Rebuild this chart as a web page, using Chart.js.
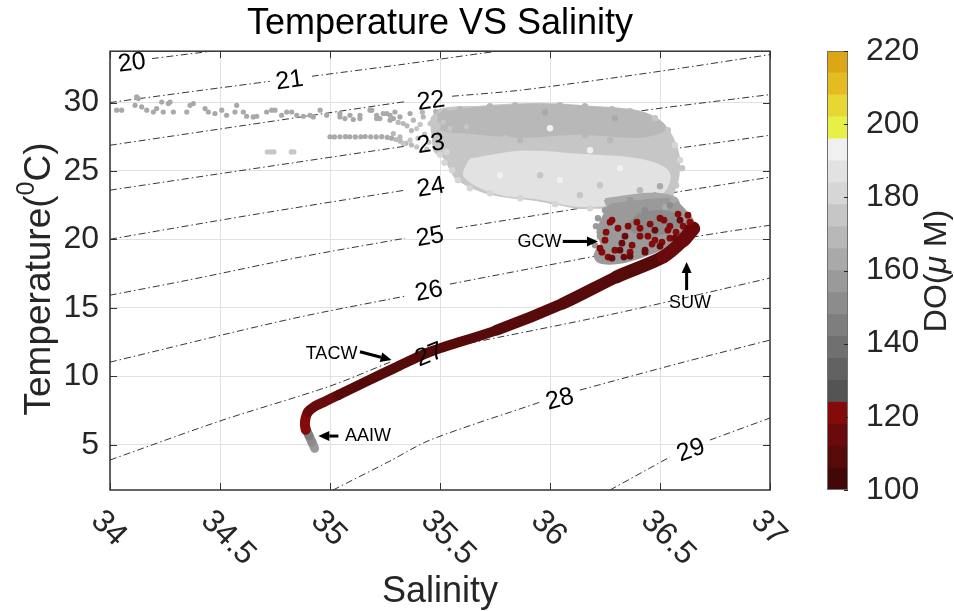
<!DOCTYPE html>
<html lang="en">
<head>
<meta charset="UTF-8">
<title>Temperature VS Salinity</title>
<script src="https://cdn.jsdelivr.net/npm/chart.js@4"></script>
<style>
  html, body { margin: 0; padding: 0; background: #fff; }
  #wrap { position: relative; width: 954px; height: 611px; }
  #tsChart { position: absolute; left: 0; top: 0; }
  #cbChart { position: absolute; left: 800px; top: 0; }
</style>
</head>
<body>
<div id="wrap">
  <canvas id="tsChart" width="954" height="611"></canvas>
  <canvas id="cbChart" width="154" height="611"></canvas>
</div>
<script>
const FONT = "'Liberation Sans', Arial, Helvetica, sans-serif";

// axis ticks
const salTicks = [34, 34.5, 35, 35.5, 36, 36.5, 37];
const tempTicks = [5, 10, 15, 20, 25, 30];
const doTicks = [100, 120, 140, 160, 180, 200, 220];

// colour bar: 20 bands of 6 uM
const doEdges = [100, 106, 112, 118, 124, 130, 136, 142, 148, 154, 160, 166, 172, 178, 184, 190, 196, 202, 208, 214, 220];
const doColors = ['#420808', '#570a0a', '#6a0a0c', '#850a0a', '#545454', '#626262', '#707070', '#7e7e7e',
  '#8c8c8c', '#9a9a9a', '#a9a9a9', '#b8b8b8', '#c6c6c6', '#d6d6d6', '#e2e2e2', '#f0f0f0',
  '#e6f046', '#e8d632', '#e4bc22', '#dca616'];

// sigma-theta isopycnals [salinity, temperature]; null = gap left for the label
const sig20 = [[34.191, 33.21], [34.5, 33.83]];
const sig21 = [[34.0, 30.0], [34.409, 30.88], [34.727, 31.55], null, [34.918, 31.92], [35.318, 32.76], [35.682, 33.58], [35.759, 33.74]];
const sig22 = [[34.0, 26.88], [34.614, 28.34], [35.227, 29.80], [35.341, 30.06], null, [35.555, 30.46], [35.864, 30.90], [36.455, 32.18], [37.0, 33.50]];
const sig23 = [[34.0, 23.60], [34.636, 25.13], [35.341, 26.81], null, [35.568, 27.39], [36.045, 28.56], [36.5, 29.58], [37.0, 30.58]];
const sig24 = [[34.0, 20.02], [34.636, 21.77], [35.341, 23.60], null, [35.568, 24.33], [36.045, 25.57], [36.577, 26.66], [37.0, 27.61]];
const sig25 = [[34.0, 15.93], [34.355, 17.03], [34.864, 18.71], [35.341, 20.09], null, [35.573, 20.82], [36.136, 22.28], [36.545, 23.38], [37.0, 24.55]];
const sig26 = [[34.0, 11.04], [34.818, 14.18], [35.341, 15.86], null, [35.545, 16.74], [36.227, 18.85], [36.65, 20.17], [37.0, 21.04]];
const sig27 = [[34.0, 3.89], [34.5, 6.74], [35.0, 9.29], [35.273, 11.04], null, [35.568, 12.21], [36.305, 14.62], [37.0, 17.18]];
const sig28 = [[35.014, 1.70], [35.273, 3.82], [35.455, 5.35], [35.955, 8.12], null, [36.136, 9.00], [36.591, 10.97], [37.0, 12.65]];
const sig29 = [[36.273, 1.70], [36.545, 4.11], null, [36.727, 5.35], [37.0, 6.96]];
const sigLevels = [20, 21, 22, 23, 24, 25, 26, 27, 28, 29];
const sigLines = [sig20, sig21, sig22, sig23, sig24, sig25, sig26, sig27, sig28, sig29];
const sigLabelAt = [[34.10, 32.87], [34.816, 31.59], [35.459, 30.09], [35.459, 26.95], [35.459, 23.78],
  [35.455, 20.17], [35.45, 16.19], [35.452, 11.55], [36.045, 8.31], [36.641, 4.58]];

// main T-S curve (thermocline / intermediate water)
const curveS = [34.890, 34.886, 34.889, 34.900, 34.930, 34.975, 35.038, 35.174, 35.295, 35.455, 35.758, 36.060, 36.303, 36.515, 36.606, 36.651];
const curveT = [6.10, 6.45, 6.95, 7.40, 7.80, 8.15, 8.64, 9.70, 10.62, 11.80, 13.38, 15.33, 17.27, 18.73, 19.95, 20.80];
const curveDO = [121, 121, 120, 117, 114, 112, 110, 108, 107, 106, 107, 108, 110, 112, 115, 119];

// deepest samples (AAIW)
const aaiwS = [34.930, 34.918, 34.905, 34.893];
const aaiwT = [4.75, 5.20, 5.65, 6.10];
const aaiwDO = [157, 152, 146, 140];

// surface cloud outlines
const cloudBody = [[35.46, 28.75], [35.500, 29.44], [35.682, 29.66], [35.941, 29.88], [36.182, 29.66],
  [36.409, 29.29], [36.514, 28.34], [36.577, 26.52], [36.582, 24.69], [36.555, 23.23], [36.536, 22.28], [36.409, 22.36],
  [36.227, 22.36], [36.123, 22.36], [35.955, 22.87], [35.773, 23.23], [35.682, 23.60], [35.577, 24.47], [35.545, 25.28],
  [35.520, 26.01], [35.48, 26.40], [35.47, 27.30]];
const cloudTop = [[35.50, 29.21], [35.682, 29.58], [35.941, 29.80], [36.227, 29.58], [36.432, 29.15], [36.523, 28.12],
  [36.409, 27.54], [36.136, 27.76], [35.864, 27.54], [35.636, 27.83], [35.50, 28.12]];
const cloudCore = [[35.636, 25.79], [35.864, 26.37], [36.136, 26.15], [36.409, 25.79], [36.536, 24.91], [36.509, 23.45],
  [36.318, 22.65], [36.123, 22.50], [35.955, 23.01], [35.750, 23.45], [35.614, 24.62]];
const cloudLower = [[36.25, 22.90], [36.45, 23.30], [36.57, 23.00], [36.58, 22.20], [36.45, 22.00], [36.28, 22.10]];
const gcwOuter = [[36.273, 22.50], [36.455, 22.87], [36.555, 22.87], [36.609, 22.14], [36.650, 21.26], [36.636, 20.53],
  [36.545, 19.58], [36.432, 18.85], [36.318, 18.34], [36.227, 18.34], [36.205, 18.85], [36.236, 19.58], [36.218, 20.53], [36.236, 21.41]];
const gcwInner = [[36.40, 21.80], [36.52, 22.05], [36.60, 21.30], [36.52, 20.50], [36.42, 20.35], [36.36, 20.95]];
const cloudShapes = [cloudBody, cloudTop, cloudCore, cloudLower, gcwOuter, gcwInner];
const cloudDO = [176, 168, 186, 164, 158, 150];

// scattered samples [salinity, temperature, DO]
const surfaceSparse = [
  [34.030, 29.44, 165], [34.053, 29.44, 165], [34.114, 29.80, 163], [34.121, 30.41, 163], [34.129, 30.29, 165], [34.144, 29.68, 163],
  [34.167, 29.44, 165], [34.197, 29.31, 163], [34.212, 29.56, 165], [34.235, 30.04, 163], [34.242, 29.31, 165], [34.265, 29.93, 163],
  [34.273, 30.04, 165], [34.288, 29.31, 163], [34.349, 29.31, 165], [34.364, 29.80, 163], [34.379, 29.93, 165], [34.432, 29.56, 163],
  [34.447, 29.31, 165], [34.477, 29.20, 163], [34.508, 29.44, 165], [34.530, 29.07, 163], [34.576, 29.80, 165], [34.568, 29.31, 163],
  [34.606, 29.31, 165], [34.621, 29.00, 163], [34.651, 28.95, 165], [34.667, 29.00, 163], [34.712, 29.31, 165], [34.735, 29.44, 163],
  [34.750, 29.44, 165], [34.780, 29.07, 163], [34.803, 29.31, 165], [34.826, 29.31, 163], [34.849, 29.07, 165], [34.879, 29.00, 163],
  [34.909, 29.07, 165], [34.924, 28.95, 163], [34.955, 29.44, 165], [34.985, 29.07, 163], [35.045, 29.20, 165], [35.068, 28.83, 163],
  [35.106, 28.76, 165], [35.136, 29.07, 163], [35.182, 29.44, 165], [35.212, 28.83, 163], [35.242, 29.20, 165], [35.273, 29.07, 163],
  [35.288, 28.83, 165], [35.045, 28.95, 165], [35.091, 29.07, 165], [35.136, 28.83, 163], [35.190, 29.44, 165], [35.212, 29.07, 163],
  [35.227, 28.83, 165], [35.258, 29.20, 163], [35.273, 28.71, 165], [35.295, 29.31, 163], [35.318, 28.95, 165], [35.333, 28.47, 170],
  [35.364, 29.20, 165], [35.379, 28.71, 168], [35.394, 28.10, 172], [35.424, 28.95, 168], [35.455, 28.47, 172], [35.470, 27.98, 172],
  [35.500, 29.07, 168], [35.515, 28.58, 172], [35.545, 28.10, 174], [35.591, 28.71, 170], [35.621, 28.22, 172], [35.651, 28.95, 170],
  [35.288, 27.74, 168], [35.318, 27.49, 168], [35.333, 27.01, 172], [35.364, 27.25, 172], [35.394, 26.76, 174],
  [35.35, 28.30, 170], [35.41, 28.40, 172], [35.43, 27.70, 174], [35.40, 27.40, 172], [35.45, 27.10, 176], [35.44, 26.60, 176],
  [35.31, 28.55, 168], [35.37, 27.95, 170], [35.42, 29.30, 166], [35.48, 29.35, 166]
];
const surfaceRow = [
  [35.000, 27.50, 163], [35.020, 27.49, 163], [35.045, 27.50, 163], [35.070, 27.51, 163], [35.090, 27.50, 163], [35.115, 27.49, 163],
  [35.140, 27.50, 163], [35.160, 27.52, 163], [35.185, 27.50, 163], [35.210, 27.49, 163], [35.235, 27.51, 165], [35.260, 27.46, 165],
  [35.280, 27.40, 165], [35.300, 27.30, 168], [35.320, 27.18, 168], [35.345, 27.02, 170], [35.370, 26.90, 170],
  [34.715, 26.39, 176], [34.730, 26.39, 176], [34.745, 26.39, 176], [34.824, 26.39, 176], [34.836, 26.39, 176]
];
const cloudEdge = [
  [35.523, 29.29, 170], [35.591, 29.51, 170], [35.727, 29.73, 168], [35.841, 29.80, 170], [36.045, 29.80, 168], [36.159, 29.73, 170],
  [36.282, 29.51, 168], [36.364, 29.36, 170], [36.477, 28.85, 172], [36.536, 27.98, 174], [36.568, 26.88, 178], [36.591, 25.79, 180],
  [36.600, 25.20, 176], [36.573, 23.96, 174], [36.559, 22.87, 165], [36.523, 22.36, 160], [36.455, 22.43, 158],
  [36.250, 22.14, 156], [36.218, 21.55, 158], [36.209, 20.97, 156], [36.227, 20.24, 158], [36.205, 19.58, 156], [36.218, 19.07, 158],
  [36.241, 18.63, 156], [35.555, 25.06, 180], [35.582, 24.33, 182], [35.636, 23.74, 182], [35.727, 23.38, 182], [35.864, 23.01, 182],
  [36.023, 22.58, 180], [36.182, 22.28, 178], [35.50, 26.20, 178], [35.52, 25.60, 180],
  [35.773, 29.07, 166], [35.909, 28.71, 166], [36.045, 28.85, 166], [36.227, 28.56, 166], [36.364, 28.12, 166], [35.864, 27.25, 170],
  [36.045, 26.66, 172], [36.273, 27.25, 170], [36.455, 26.52, 172], [35.682, 26.52, 172], [35.955, 24.69, 176], [36.227, 23.96, 174],
  [36.409, 23.60, 168], [35.773, 27.98, 168], [36.159, 27.61, 168], [36.000, 28.12, 192], [36.182, 26.52, 192], [36.318, 25.20, 192],
  [35.568, 28.34, 170], [35.659, 28.85, 166], [35.977, 29.29, 164], [36.114, 28.34, 166], [36.295, 28.85, 164], [36.432, 27.98, 168],
  [35.795, 27.39, 172], [36.318, 26.88, 172], [35.773, 24.69, 190], [36.045, 24.33, 190], [36.318, 24.69, 186], [36.136, 23.23, 176],
  [36.364, 22.87, 155], [36.477, 23.23, 160], [36.545, 22.50, 152], [36.432, 22.14, 150], [36.341, 22.00, 156], [36.500, 23.89, 165],
  [35.49, 27.60, 174], [35.50, 26.80, 176], [35.53, 26.40, 178], [35.49, 28.30, 172]
];
const gcwLowOxygen = [
  [36.282, 21.41, 121], [36.309, 20.82, 119], [36.250, 19.95, 121], [36.341, 20.24, 117], [36.373, 19.58, 121], [36.409, 20.82, 119],
  [36.445, 20.24, 121], [36.477, 20.68, 117], [36.509, 19.80, 121], [36.545, 20.97, 119], [36.573, 20.53, 121], [36.591, 21.41, 117],
  [36.364, 19.07, 121], [36.295, 19.22, 119], [36.432, 19.22, 117], [36.500, 21.55, 121], [36.627, 21.77, 119], [36.227, 19.36, 121],
  [36.327, 19.73, 117], [36.464, 19.66, 121], [36.545, 20.09, 119], [36.395, 21.26, 121], [36.264, 18.71, 119], [36.336, 18.71, 117],
  [36.605, 20.97, 121], [36.282, 18.63, 115], [36.364, 18.78, 113], [36.432, 19.07, 115], [36.500, 19.51, 113], [36.568, 20.09, 115],
  [36.627, 20.82, 117], [36.318, 19.22, 115], [36.477, 19.95, 119], [36.409, 20.24, 121], [36.536, 20.68, 119], [36.636, 21.26, 121],
  [36.236, 19.07, 121], [36.255, 20.53, 121], [36.273, 21.26, 119], [36.355, 20.97, 121], [36.455, 21.12, 121], [36.518, 21.41, 119],
  [36.582, 21.85, 121]
];

// water mass annotations
const wmNames = ['GCW', 'SUW', 'TACW', 'AAIW'];
const wmText = [[36.052, 19.80], [36.636, 15.33], [35.007, 11.66], [35.068, 5.64]];
const wmTail = [[36.058, 19.85], [36.621, 16.30], [35.136, 11.80], [35.038, 5.64]];
const wmHead = [[36.218, 19.85], [36.621, 18.36], [35.280, 11.19], [34.947, 5.64]];

function doColor(v) {
  let i = Math.floor((v - doEdges[0]) / 6);
  i = Math.max(0, Math.min(doColors.length - 1, i));
  return doColors[i];
}

const pt = (s, t) => ({x: s, y: t});

function localAngle(line, px, py, xs, ys) {
  let best = 0, bestD = Infinity;
  for (let k = 0; k < line.length - 1; k++) {
    const a = line[k], b = line[k + 1];
    if (!a || !b) continue;
    const ax = xs.getPixelForValue(a[0]), ay = ys.getPixelForValue(a[1]);
    const bx = xs.getPixelForValue(b[0]), by = ys.getPixelForValue(b[1]);
    const d = Math.hypot((ax + bx) / 2 - px, (ay + by) / 2 - py);
    if (d < bestD) { bestD = d; best = Math.atan2(by - ay, bx - ax); }
  }
  return best;
}

function drawArrow(ctx, x0, y0, x1, y1) {
  const ang = Math.atan2(y1 - y0, x1 - x0);
  const head = 11, half = 5;
  const bx = x1 - head * Math.cos(ang), by = y1 - head * Math.sin(ang);
  ctx.beginPath();
  ctx.moveTo(x0, y0);
  ctx.lineTo(bx, by);
  ctx.stroke();
  ctx.beginPath();
  ctx.moveTo(x1, y1);
  ctx.lineTo(bx + half * Math.sin(ang), by - half * Math.cos(ang));
  ctx.lineTo(bx - half * Math.sin(ang), by + half * Math.cos(ang));
  ctx.closePath();
  ctx.fill();
}

const tsDecor = {
  id: 'tsDecor',
  afterDatasetsDraw(chart) {
    const {ctx, chartArea: a, scales: {x, y}} = chart;
    ctx.save();
    // isopycnal labels
    ctx.font = `25px ${FONT}`;
    ctx.fillStyle = '#000';
    ctx.textAlign = 'center';
    ctx.textBaseline = 'middle';
    sigLevels.forEach((lvl, i) => {
      const px = x.getPixelForValue(sigLabelAt[i][0]);
      const py = y.getPixelForValue(sigLabelAt[i][1]);
      ctx.save();
      ctx.translate(px, py);
      ctx.rotate(localAngle(sigLines[i], px, py, x, y));
      ctx.fillText(String(lvl), 0, 0);
      ctx.restore();
    });
    // arrows + water mass names
    ctx.strokeStyle = '#000';
    ctx.lineWidth = 3;
    wmNames.forEach((name, i) => {
      drawArrow(ctx, x.getPixelForValue(wmTail[i][0]), y.getPixelForValue(wmTail[i][1]),
        x.getPixelForValue(wmHead[i][0]), y.getPixelForValue(wmHead[i][1]));
    });
    const align = ['right', 'center', 'center', 'left'];
    ctx.font = `18px ${FONT}`;
    wmNames.forEach((name, i) => {
      ctx.textAlign = align[i];
      ctx.fillText(name, x.getPixelForValue(wmText[i][0]), y.getPixelForValue(wmText[i][1]));
    });
    // axes box with inward ticks
    ctx.strokeStyle = '#333';
    ctx.lineWidth = 1.5;
    ctx.strokeRect(a.left, a.top, a.right - a.left, a.bottom - a.top);
    ctx.lineWidth = 1;
    ctx.beginPath();
    salTicks.forEach(v => {
      const px = Math.round(x.getPixelForValue(v)) + 0.5;
      ctx.moveTo(px, a.bottom); ctx.lineTo(px, a.bottom - 7);
      ctx.moveTo(px, a.top); ctx.lineTo(px, a.top + 7);
    });
    tempTicks.forEach(v => {
      const py = Math.round(y.getPixelForValue(v)) + 0.5;
      ctx.moveTo(a.left, py); ctx.lineTo(a.left + 7, py);
      ctx.moveTo(a.right, py); ctx.lineTo(a.right - 7, py);
    });
    ctx.stroke();
    ctx.restore();
  },
  afterDraw(chart) {
    const {ctx, chartArea: a, scales: {x}} = chart;
    ctx.save();
    ctx.fillStyle = '#262626';
    // rotated salinity tick labels
    ctx.font = `32px ${FONT}`;
    ctx.textAlign = 'left';
    ctx.textBaseline = 'middle';
    salTicks.forEach(v => {
      ctx.save();
      ctx.translate(x.getPixelForValue(v) - 14, a.bottom + 26);
      ctx.rotate(Math.PI / 4);
      ctx.fillText(String(v), 0, 0);
      ctx.restore();
    });
    // axis titles
    ctx.font = `36px ${FONT}`;
    ctx.textAlign = 'center';
    ctx.textBaseline = 'alphabetic';
    ctx.fillText('Salinity', (a.left + a.right) / 2, 602);

    ctx.save();
    ctx.translate(50, 279);
    ctx.rotate(-Math.PI / 2);
    const big = `37px ${FONT}`, small = `25px ${FONT}`;
    ctx.font = big;
    const w1 = ctx.measureText('Temperature(').width, w3 = ctx.measureText('C)').width;
    ctx.font = small;
    const w2 = ctx.measureText('0').width;
    let cx = -(w1 + w2 + w3) / 2;
    ctx.textAlign = 'left';
    ctx.font = big; ctx.fillText('Temperature(', cx, 0); cx += w1;
    ctx.font = small; ctx.fillText('0', cx, -16); cx += w2;
    ctx.font = big; ctx.fillText('C)', cx, 0);
    ctx.restore();
    ctx.restore();
  }
};

const datasets = [];

sigLines.forEach(line => {
  datasets.push({
    type: 'line',
    data: line.map(p => p ? pt(p[0], p[1]) : {x: null, y: null}),
    borderColor: '#202020',
    borderWidth: 0.9,
    borderDash: [7, 3, 1.5, 3],
    pointRadius: 0,
    tension: 0.3,
    fill: false,
    clip: 0,
    order: 50
  });
});

cloudShapes.forEach((shape, i) => {
  datasets.push({
    type: 'line',
    data: shape.concat([shape[0]]).map(p => pt(p[0], p[1])),
    fill: 'shape',
    backgroundColor: doColor(cloudDO[i]),
    borderColor: doColor(cloudDO[i]),
    borderWidth: 3,
    pointRadius: 0,
    tension: 0.35,
    order: 40 - i
  });
});

const dots = (pts, r, order) => ({
  type: 'scatter',
  data: pts.map(p => pt(p[0], p[1])),
  backgroundColor: pts.map(p => doColor(p[2])),
  borderWidth: 0,
  pointRadius: r,
  order
});
datasets.push(dots(surfaceSparse, 2.6, 30));
datasets.push(dots(surfaceRow, 2.6, 30));
datasets.push(dots(cloudEdge, 3.2, 30));

datasets.push({
  type: 'line',
  data: aaiwS.map((s, i) => pt(s, aaiwT[i])),
  borderColor: doColor(aaiwDO[0]),
  segment: {borderColor: c => doColor(aaiwDO[c.p0DataIndex])},
  borderWidth: 9,
  borderCapStyle: 'round',
  borderJoinStyle: 'round',
  pointRadius: 0,
  tension: 0.3,
  fill: false,
  order: 21
});

// band widens gently towards the subtropical underwater end
const curveWidth = t => 10 + Math.max(0, Math.min(4, Math.round((t - 12) / 2)));
datasets.push({
  type: 'line',
  data: curveS.map((s, i) => pt(s, curveT[i])),
  borderColor: doColor(curveDO[0]),
  segment: {
    borderColor: c => doColor(curveDO[c.p0DataIndex]),
    borderWidth: c => curveWidth(c.p0.parsed.y)
  },
  borderWidth: 10,
  borderCapStyle: 'round',
  borderJoinStyle: 'round',
  pointRadius: 0,
  tension: 0.3,
  fill: false,
  order: 20
});

datasets.push(dots(gcwLowOxygen, 3.4, 10));

new Chart(document.getElementById('tsChart'), {
  type: 'scatter',
  data: {datasets},
  options: {
    responsive: false,
    animation: false,
    devicePixelRatio: 1,
    events: [],
    layout: {padding: {left: 0, top: 0, right: 184, bottom: 0}},
    plugins: {
      legend: {display: false},
      tooltip: {enabled: false},
      title: {
        display: true,
        text: 'Temperature VS Salinity',
        color: '#000',
        font: {family: FONT, size: 36, weight: 'normal'},
        padding: {top: 2, bottom: 6},
        fullSize: false
      }
    },
    scales: {
      x: {
        type: 'linear', min: 34, max: 37,
        afterBuildTicks: s => { s.ticks = salTicks.map(v => ({value: v})); },
        afterFit: s => { s.height = 121; },
        ticks: {display: false},
        grid: {color: '#e1e1e1', drawTicks: false},
        border: {display: false}
      },
      y: {
        type: 'linear', min: 1.7, max: 33.75,
        afterBuildTicks: s => { s.ticks = tempTicks.map(v => ({value: v})); },
        afterFit: s => { s.width = 110; },
        ticks: {font: {family: FONT, size: 32}, color: '#262626', padding: 11},
        grid: {color: '#e1e1e1', drawTicks: false},
        border: {display: false}
      }
    }
  },
  plugins: [tsDecor]
});

const cbDecor = {
  id: 'cbDecor',
  afterDraw(chart) {
    const {ctx, chartArea: a, scales: {y}} = chart;
    ctx.save();
    ctx.strokeStyle = '#707070';
    ctx.lineWidth = 1;
    ctx.strokeRect(a.left + 0.5, a.top + 0.5, a.right - a.left - 1, a.bottom - a.top - 1);
    ctx.strokeStyle = '#262626';
    ctx.beginPath();
    doTicks.forEach(v => {
      const py = Math.round(y.getPixelForValue(v)) + 0.5;
      ctx.moveTo(a.right, py);
      ctx.lineTo(a.right - 4, py);
    });
    ctx.stroke();
    // colour bar label, DO(mu M) with italic mu
    ctx.fillStyle = '#262626';
    ctx.translate(146, 271);
    ctx.rotate(-Math.PI / 2);
    const norm = `32px ${FONT}`, ital = `italic 32px ${FONT}`;
    ctx.font = norm;
    const w1 = ctx.measureText('DO(').width, w3 = ctx.measureText(' M)').width;
    ctx.font = ital;
    const w2 = ctx.measureText('\u03bc').width;
    let cx = -(w1 + w2 + w3) / 2;
    ctx.textAlign = 'left';
    ctx.textBaseline = 'alphabetic';
    ctx.font = norm; ctx.fillText('DO(', cx, 0); cx += w1;
    ctx.font = ital; ctx.fillText('\u03bc', cx, 0); cx += w2;
    ctx.font = norm; ctx.fillText(' M)', cx, 0);
    ctx.restore();
  }
};

new Chart(document.getElementById('cbChart'), {
  type: 'bar',
  data: {
    labels: ['DO'],
    datasets: doColors.map((c, i) => ({
      data: [[doEdges[i], doEdges[i + 1]]],
      backgroundColor: c,
      borderWidth: 0,
      grouped: false,
      barPercentage: 1,
      categoryPercentage: 1
    }))
  },
  options: {
    responsive: false,
    animation: false,
    devicePixelRatio: 1,
    events: [],
    layout: {padding: {left: 27, top: 51, bottom: 121, right: 0}},
    plugins: {legend: {display: false}, tooltip: {enabled: false}},
    scales: {
      x: {display: false},
      y: {
        position: 'right', min: 100, max: 220,
        afterBuildTicks: s => { s.ticks = doTicks.map(v => ({value: v})); },
        afterFit: s => { s.width = 106; },
        grid: {display: false},
        border: {display: false},
        ticks: {font: {family: FONT, size: 32}, color: '#262626', padding: 10, autoSkip: false}
      }
    }
  },
  plugins: [cbDecor]
});
</script>
</body>
</html>
